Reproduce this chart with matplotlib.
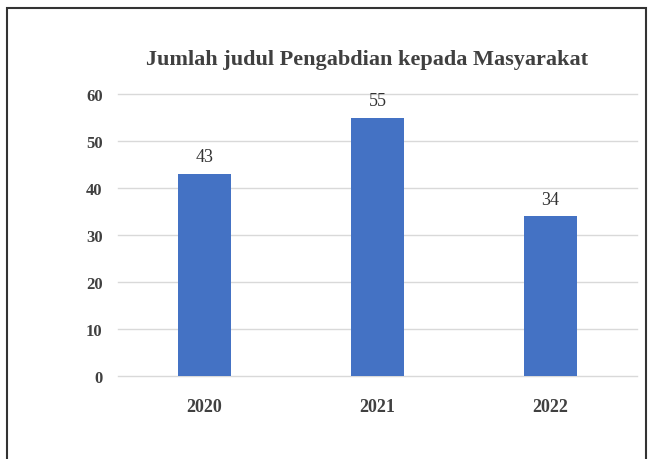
import matplotlib.pyplot as plt
from matplotlib.patches import Rectangle

years = ['2020', '2021', '2022']
counts = [43, 55, 34]
yticks = [0, 10, 20, 30, 40, 50, 60]

plt.rcParams['font.family'] = ['Liberation Serif', 'DejaVu Serif']

fig = plt.figure(figsize=(6.49, 4.6), dpi=100)
ax = fig.add_axes([118 / 649, 1 - 377 / 460, 519 / 649, 282 / 460])

x = range(len(years))
bars = ax.bar(x, counts, width=0.31, color='#4472C4', zorder=3)
for b, v in zip(bars, counts):
    ax.text(b.get_x() + b.get_width() / 2, v + 1.8, str(v), ha='center', va='bottom',
            fontsize=13, color='#333333')

ax.set_xlim(-0.5, 2.5)
ax.set_ylim(0, 60)
ax.set_yticks(yticks)
ax.set_xticks(list(x))
ax.set_xticklabels(years, fontweight='bold', fontsize=13, color='#404040')
ax.set_yticklabels([str(t) for t in yticks], fontweight='bold', fontsize=12, color='#404040')
ax.tick_params(length=0)
ax.tick_params(axis='y', pad=11)
ax.tick_params(axis='x', pad=16)
ax.grid(axis='y', color='#d9d9d9', linewidth=1, zorder=0)
for gl in ax.get_ygridlines():
    gl.set_clip_on(False)
for s in ax.spines.values():
    s.set_visible(False)

fig.text(367 / 649, 1 - 60 / 460, 'Jumlah judul Pengabdian kepada Masyarakat', ha='center', va='center',
         fontsize=16, fontweight='bold', color='#404040')

# outer frame of the screenshot
fig.patches.append(Rectangle((7 / 649, -0.05), 639 / 649, 1 - 9 / 460 + 0.05, transform=fig.transFigure,
                             fill=False, edgecolor='#333333', linewidth=1.5))

fig.savefig('out.png', dpi=100)
